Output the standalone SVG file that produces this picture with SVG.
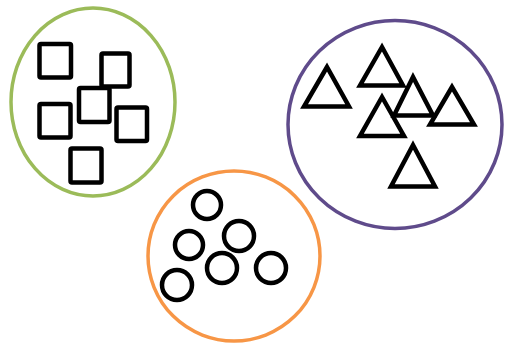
<svg xmlns="http://www.w3.org/2000/svg" width="505" height="343" viewBox="0 0 505 343">
<style>
.shape{fill:none;stroke:#000;stroke-width:4.5}
.sq{stroke-linejoin:round}
.tri{stroke-linejoin:miter;stroke-miterlimit:10}
.grp{fill:none;stroke-width:3.5}
</style>
<rect width="505" height="343" fill="#fff"/>
<g id="squares">
<ellipse class="grp" cx="93" cy="102" rx="82" ry="94" stroke="#9BBB59"/>
<rect class="shape sq" x="39.5" y="44" width="31.5" height="33.5" rx="1.5"/>
<rect class="shape sq" x="101.5" y="53.5" width="28" height="33" rx="1.5"/>
<rect class="shape sq" x="79" y="88" width="30.5" height="34" rx="1.5"/>
<rect class="shape sq" x="39.5" y="104" width="31" height="33.5" rx="1.5"/>
<rect class="shape sq" x="116.5" y="107.5" width="30.5" height="33.5" rx="1.5"/>
<rect class="shape sq" x="70.5" y="148.5" width="31" height="34" rx="1.5"/>
</g>
<g id="triangles">
<ellipse class="grp" cx="395" cy="124.5" rx="107" ry="104" stroke="#5F4B8B"/>
<polygon class="shape tri" points="327,67 304,106.5 349,106.5"/>
<polygon class="shape tri" points="382,47 360,85.5 403,85.5"/>
<polygon class="shape tri" points="413,77 394,115.5 433,115.5"/>
<polygon class="shape tri" points="452,87 430,124.5 474,124.5"/>
<polygon class="shape tri" points="382,97 360,136 404,136"/>
<polygon class="shape tri" points="413,145 391,186.5 435,186.5"/>
</g>
<g id="circles">
<ellipse class="grp" cx="234" cy="256" rx="86" ry="85" stroke="#F79646"/>
<circle class="shape" cx="207" cy="205" r="14"/>
<circle class="shape" cx="189" cy="245" r="14"/>
<circle class="shape" cx="239" cy="236" r="15"/>
<circle class="shape" cx="222" cy="268" r="15"/>
<circle class="shape" cx="271" cy="268" r="15"/>
<circle class="shape" cx="177" cy="285" r="15"/>
</g>
<g id="connectors"/>
</svg>
